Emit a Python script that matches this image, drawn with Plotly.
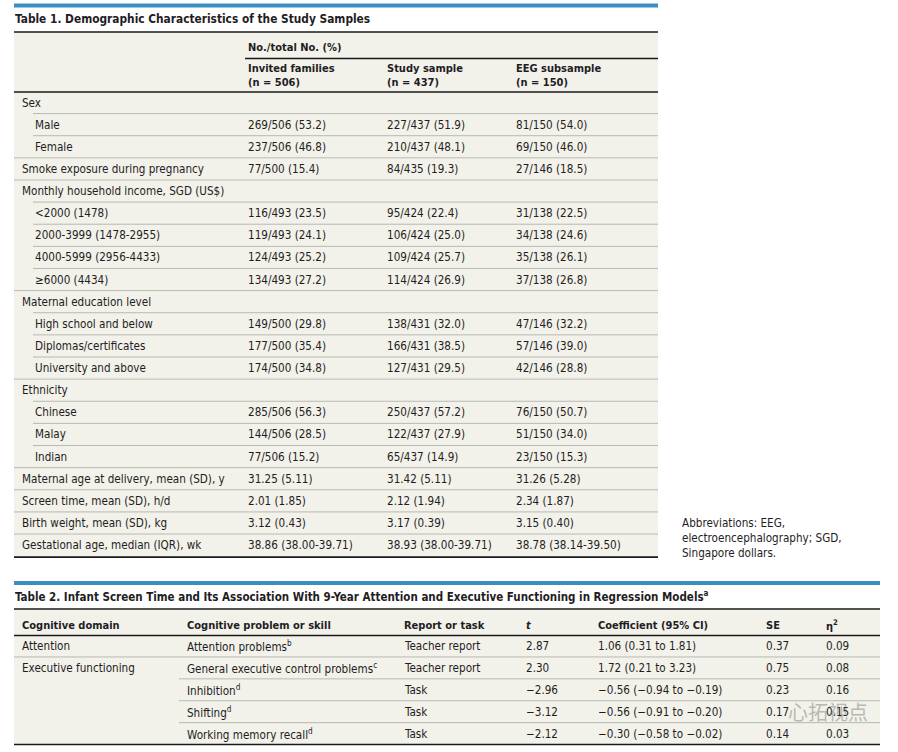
import plotly.graph_objects as go

# ---------------- Table 1 data ----------------
t1_title = "Table 1. Demographic Characteristics of the Study Samples"
t1_group_header = "No./total No. (%)"
t1_col_headers = ["Invited families<br>(n = 506)", "Study sample<br>(n = 437)", "EEG subsample<br>(n = 150)"]
t1_labels = [
    "Sex", "Male", "Female", "Smoke exposure during pregnancy",
    "Monthly household income, SGD (US$)", "<2000 (1478)", "2000-3999 (1478-2955)",
    "4000-5999 (2956-4433)", "≥6000 (4434)", "Maternal education level",
    "High school and below", "Diplomas/certificates", "University and above",
    "Ethnicity", "Chinese", "Malay", "Indian",
    "Maternal age at delivery, mean (SD), y", "Screen time, mean (SD), h/d",
    "Birth weight, mean (SD), kg", "Gestational age, median (IQR), wk",
]
t1_indent = [0, 1, 1, 0, 0, 1, 1, 1, 1, 0, 1, 1, 1, 0, 1, 1, 1, 0, 0, 0, 0]
t1_invited = ["", "269/506 (53.2)", "237/506 (46.8)", "77/500 (15.4)", "",
              "116/493 (23.5)", "119/493 (24.1)", "124/493 (25.2)", "134/493 (27.2)", "",
              "149/500 (29.8)", "177/500 (35.4)", "174/500 (34.8)", "",
              "285/506 (56.3)", "144/506 (28.5)", "77/506 (15.2)",
              "31.25 (5.11)", "2.01 (1.85)", "3.12 (0.43)", "38.86 (38.00-39.71)"]
t1_study = ["", "227/437 (51.9)", "210/437 (48.1)", "84/435 (19.3)", "",
            "95/424 (22.4)", "106/424 (25.0)", "109/424 (25.7)", "114/424 (26.9)", "",
            "138/431 (32.0)", "166/431 (38.5)", "127/431 (29.5)", "",
            "250/437 (57.2)", "122/437 (27.9)", "65/437 (14.9)",
            "31.42 (5.11)", "2.12 (1.94)", "3.17 (0.39)", "38.93 (38.00-39.71)"]
t1_eeg = ["", "81/150 (54.0)", "69/150 (46.0)", "27/146 (18.5)", "",
          "31/138 (22.5)", "34/138 (24.6)", "35/138 (26.1)", "37/138 (26.8)", "",
          "47/146 (32.2)", "57/146 (39.0)", "42/146 (28.8)", "",
          "76/150 (50.7)", "51/150 (34.0)", "23/150 (15.3)",
          "31.26 (5.28)", "2.34 (1.87)", "3.15 (0.40)", "38.78 (38.14-39.50)"]
t1_note = "Abbreviations: EEG,<br>electroencephalography; SGD,<br>Singapore dollars."

# ---------------- Table 2 data ----------------
t2_title = "Table 2. Infant Screen Time and Its Association With 9-Year Attention and Executive Functioning in Regression Models<sup>a</sup>"
t2_headers = ["Cognitive domain", "Cognitive problem or skill", "Report or task", "<i>t</i>",
              "Coefficient (95% CI)", "SE", "η<sup>2</sup>"]
t2_domain = ["Attention", "Executive functioning", "", "", ""]
t2_skill = ["Attention problems<sup>b</sup>", "General executive control problems<sup>c</sup>",
            "Inhibition<sup>d</sup>", "Shifting<sup>d</sup>", "Working memory recall<sup>d</sup>"]
t2_report = ["Teacher report", "Teacher report", "Task", "Task", "Task"]
t2_t = ["2.87", "2.30", "−2.96", "−3.12", "−2.12"]
t2_coef = ["1.06 (0.31 to 1.81)", "1.72 (0.21 to 3.23)", "−0.56 (−0.94 to −0.19)",
           "−0.56 (−0.91 to −0.20)", "−0.30 (−0.58 to −0.02)"]
t2_se = ["0.37", "0.75", "0.23", "0.17", "0.14"]
t2_eta = ["0.09", "0.08", "0.16", "0.15", "0.03"]
watermark = "心拓视点"

# ---------------- styling ----------------
FONT = "DejaVu Sans Condensed, Liberation Sans Narrow, sans-serif"
TXT = "#1f1d24"
BLUE = "#3a8fc2"
BEIGE = "#f2f1ea"
GRAY = "#b9b9b4"
BODY = 11.6
HEAD = 11.0
TITLE = 11.8

W, H = 898, 752
fig = go.Figure()
shapes, ann = [], []

def text(x, y, s, size=BODY, bold=False, color=TXT, xanchor="left", family=FONT):
    if bold:
        s = "<b>" + s.replace("<br>", "</b><br><b>") + "</b>"
    ann.append(dict(x=x, y=y, xref="x", yref="y", text=s, showarrow=False,
                    xanchor=xanchor, yanchor="middle", align="left",
                    font=dict(family=family, size=size, color=color)))

def hline(x0, x1, y, color=GRAY, width=1):
    shapes.append(dict(type="line", x0=x0, x1=x1, y0=y, y1=y, xref="x", yref="y",
                       line=dict(color=color, width=width)))

def rect(x0, x1, y0, y1, color):
    shapes.append(dict(type="rect", x0=x0, x1=x1, y0=y0, y1=y1, xref="x", yref="y",
                       line=dict(width=0), fillcolor=color, layer="below"))

# ---- Table 1 ----
L1, R1 = 14, 658
rect(L1, R1, 3.5, 7.5, BLUE)
text(L1 - 1, 18.5, t1_title, size=TITLE, bold=True)
rect(L1, R1, 32, 558, BEIGE)
hline(L1, R1, 32, color="#1a1a1a", width=1.6)
cols1 = [246, 385, 514]
text(cols1[0], 47, t1_group_header, size=HEAD, bold=True)
hline(cols1[0] - 1, R1, 58.5, color="#1a1a1a", width=1.3)
for cx, h in zip(cols1, t1_col_headers):
    text(cx, 75.5, h, size=HEAD, bold=True)
hline(L1, R1, 92, color="#1a1a1a", width=1.6)

y0, dy = 102.5, 22.13
n1 = len(t1_labels)
for i in range(n1):
    yc = y0 + i * dy
    text(20 + 13 * t1_indent[i], yc, t1_labels[i])
    for cx, vals in zip(cols1, [t1_invited, t1_study, t1_eeg]):
        if vals[i]:
            text(cx, yc, vals[i])
    yl = yc + dy / 2
    if i < n1 - 1:
        hline(33 if t1_indent[i + 1] else L1, R1, yl)
    else:
        hline(L1, R1, yl + 1, color="#1a1a1a", width=1.6)

text(680, 538, t1_note)

# ---- Table 2 ----
L2, R2 = 14, 880
rect(L2, R2, 581, 585, BLUE)
text(L2 - 1, 596.5, t2_title, size=TITLE - 0.3, bold=True)
rect(L2, R2, 609, 745, BEIGE)
hline(L2, R2, 609, color="#1a1a1a", width=1.6)
cols2 = [20, 185, 402, 524, 596, 764, 824]
for cx, h in zip(cols2, t2_headers):
    text(cx, 625, h, size=HEAD, bold=True)
hline(L2, R2, 635.5, color="#1a1a1a", width=1.3)
ry0, rdy = 646, 21.9
n2 = len(t2_skill)
for i in range(n2):
    yc = ry0 + i * rdy
    row = [t2_domain[i], t2_skill[i], t2_report[i], t2_t[i], t2_coef[i], t2_se[i], t2_eta[i]]
    for cx, v in zip(cols2, row):
        if v:
            text(cx, yc, v)
    yl = yc + rdy / 2
    if i < n2 - 1:
        hline(L2 if t2_domain[i + 1] else 179, R2, yl)
    else:
        hline(L2, R2, yl, color="#1a1a1a", width=1.6)

# watermark overlay
ann.append(dict(x=870, y=711, xref="x", yref="y", text=watermark, showarrow=False,
                xanchor="right", yanchor="middle",
                font=dict(family="Noto Sans CJK SC", size=20, color="rgba(110,110,110,0.45)")))

fig.add_trace(go.Scatter(x=[0, W], y=[0, H], mode="markers", marker=dict(opacity=0),
                         hoverinfo="skip", showlegend=False))
fig.update_layout(
    width=W, height=H, margin=dict(l=0, r=0, t=0, b=0),
    paper_bgcolor="white", plot_bgcolor="white",
    xaxis=dict(range=[0, W], visible=False, fixedrange=True),
    yaxis=dict(range=[H, 0], visible=False, fixedrange=True),
    shapes=shapes, annotations=ann,
)
fig.write_html("out.html", config={"displayModeBar": False},
               post_script="document.body.style.margin='0';document.body.style.overflow='hidden';")
